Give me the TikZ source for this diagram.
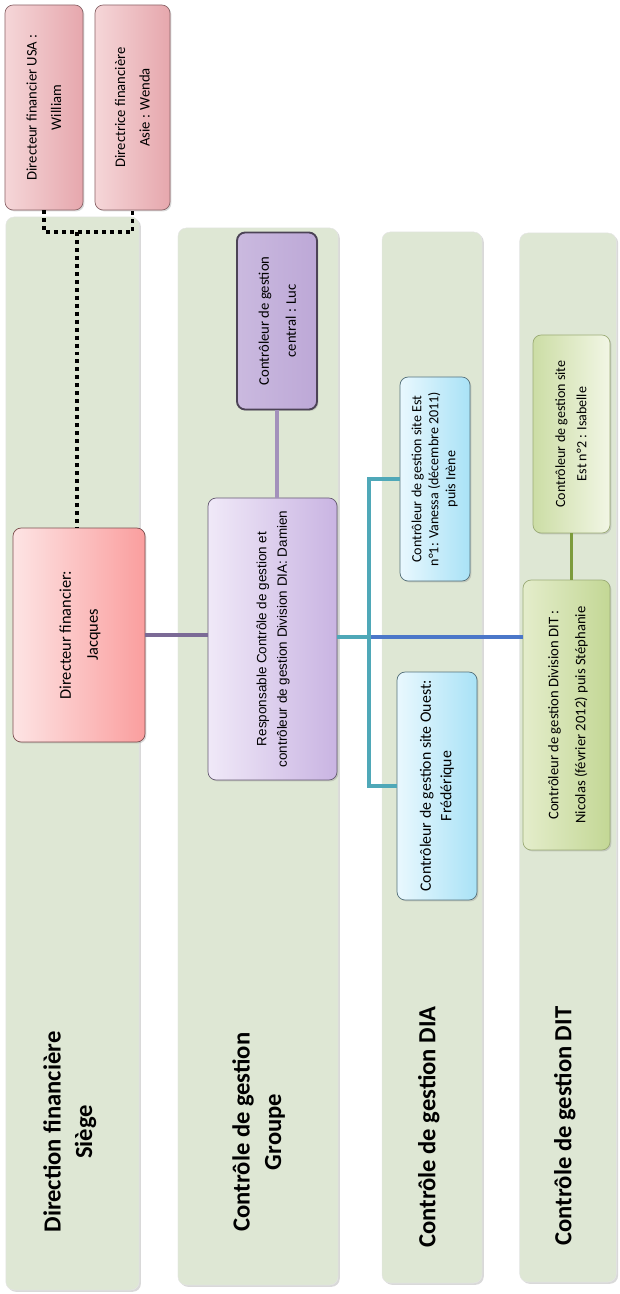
\documentclass[tikz,border=0pt]{standalone}
\usepackage{fontspec}
\setmainfont{Carlito}
\newfontfamily\arialfont{Liberation Sans}
\usepackage{tikz}
\usetikzlibrary{shadows,calc}

\definecolor{bandgreen}{HTML}{DEE7D4}
\definecolor{pinkL}{HTML}{F5D6D8}
\definecolor{pinkR}{HTML}{E6A7AD}
\definecolor{jacL}{HTML}{FDE4E4}
\definecolor{jacR}{HTML}{FA9E9E}
\definecolor{purL}{HTML}{F0E9F8}
\definecolor{purR}{HTML}{C9B4E2}
\definecolor{lucF}{HTML}{BDA8D7}
\definecolor{cyaL}{HTML}{E9F8FE}
\definecolor{cyaR}{HTML}{A9E2F6}
\definecolor{grnL}{HTML}{E4EDCB}
\definecolor{grnR}{HTML}{C3D795}
\definecolor{lnpurple}{HTML}{7B6A96}
\definecolor{lnlilac}{HTML}{A391BB}
\definecolor{lnteal}{HTML}{4FA8B8}
\definecolor{lnblue}{HTML}{4B77C9}
\definecolor{lnolive}{HTML}{7C9B3C}

\newcommand{\vtext}[1]{\rotatebox{90}{\begin{tabular}{@{}c@{}}#1\end{tabular}}}

\begin{document}
\begin{tikzpicture}[x=0.03cm,y=-0.03cm,
  band/.style={draw=black!10,fill=bandgreen,rounded corners=7pt,
    drop shadow={shadow xshift=1.5pt,shadow yshift=-1.5pt,opacity=0.3}},
  title/.style={font=\bfseries\fontsize{21}{27}\selectfont},
  card/.style={draw,rounded corners=7pt,line width=0.6pt,inner sep=0pt,
    font=\fontsize{11.5}{17}\selectfont,
    drop shadow={shadow xshift=1.2pt,shadow yshift=-1.2pt,opacity=0.3}},
  pinkcard/.style={card,draw=pinkR!60!black,left color=pinkL,right color=pinkR},
  jaccard/.style={card,draw=jacR!50!black,left color=jacL,right color=jacR},
  purcard/.style={card,draw=purR!50!black,left color=purL,right color=purR},
  cyacard/.style={card,draw=cyaR!50!black,left color=cyaL,right color=cyaR},
  grncard/.style={card,draw=grnR!80!black,left color=grnL,right color=grnR},
  dotline/.style={line width=3.4pt,dash pattern=on 3.4pt off 3.4pt},
  link/.style={line width=3.2pt}]
\useasboundingbox (0,0) rectangle (620,1294);

% bands
\node[band,minimum width=4.0cm,minimum height=32.19cm] (b1) at (72.5,753.5) {};
\node[band,minimum width=4.8cm,minimum height=31.71cm] (b2) at (258,756.5) {};
\node[band,minimum width=3.0cm,minimum height=31.53cm] (b3) at (432,757.5) {};
\node[band,minimum width=2.9cm,minimum height=31.47cm] (b4) at (568,757.5) {};

\node[title] (t1) at (70,1132) {\vtext{Direction financière\\Siège}};
\node[title] (t2) at (259,1132) {\vtext{Contrôle de gestion\\Groupe}};
\node[title] (t3) at (429,1127) {\vtext{Contrôle de gestion DIA}};
\node[title] (t4) at (565,1126) {\vtext{Contrôle de gestion DIT}};

% boxes
\node[pinkcard,minimum width=2.34cm,minimum height=6.15cm,font=\fontsize{12.5}{21}\selectfont] (usa) at (44,107.5) {\vtext{Directeur financier USA :\\William}};
\node[pinkcard,minimum width=2.25cm,minimum height=6.15cm,font=\fontsize{12.5}{21}\selectfont] (asi) at (132.5,107.5) {\vtext{Directrice financière\\Asie : Wenda}};
\node[jaccard,minimum width=3.96cm,minimum height=6.42cm,font=\fontsize{14}{23}\selectfont] (jac) at (79,635) {\vtext{Directeur financier:\\Jacques}};
\node[purcard,minimum width=3.87cm,minimum height=8.46cm,font=\arialfont\fontsize{11.5}{17.5}\selectfont] (dam) at (272.5,639) {\vtext{Responsable Contrôle de gestion et\\contrôleur de gestion Division DIA: Damien}};
\node[card,draw=lucF!40!black,line width=1.6pt,left color=lucF!80!white,right color=lucF,minimum width=2.4cm,minimum height=5.31cm,font=\fontsize{12.5}{23}\selectfont] (luc) at (277,321) {\vtext{Contrôleur de gestion\\central : Luc}};
\node[cyacard,minimum width=2.1cm,minimum height=6.12cm,font=\fontsize{12}{14.5}\selectfont] (van) at (435,479) {\vtext{Contrôleur de gestion site Est\\n°1: Vanessa (décembre 2011)\\puis Irène}};
\node[cyacard,minimum width=2.4cm,minimum height=6.84cm,font=\fontsize{13.5}{17.5}\selectfont] (fre) at (437,786) {\vtext{Contrôleur de gestion site Ouest:\\Frédérique}};
\node[grncard,minimum width=2.61cm,minimum height=8.1cm,font=\fontsize{12.5}{23}\selectfont] (nic) at (566.5,715) {\vtext{Contrôleur de gestion Division DIT :\\Nicolas (février 2012) puis Stéphanie}};
\node[card,draw=grnR!80!black,left color=grnR!85!white,right color=grnL!50!white,minimum width=2.31cm,minimum height=5.94cm,font=\fontsize{12}{18}\selectfont] (isa) at (571.5,434) {\vtext{Contrôleur de gestion site\\Est n°2 : Isabelle}};

% connectors
\coordinate (dj) at (77,232);
\draw[dotline] (usa.south) |- (dj) -| (asi.south);
\draw[dotline] (dj) -- (dj |- jac.north);
\draw[link,lnpurple] (jac.east) -- (dam.west |- jac.east);
\draw[link,lnlilac,line width=2.6pt] (luc.south) -- (luc.south |- dam.north);
\coordinate (fork) at (369,637);
\draw[link,lnblue,line width=2.8pt] (fork) -- (nic.west |- fork);
\draw[link,lnteal] (dam.east |- fork) -- (fork);
\draw[link,lnteal] (fork) |- (van.west);
\draw[link,lnteal] (fork) |- (fre.west);
\draw[link,lnolive,line width=2.8pt] (isa.south) -- (isa.south |- nic.north);
\end{tikzpicture}
\end{document}
